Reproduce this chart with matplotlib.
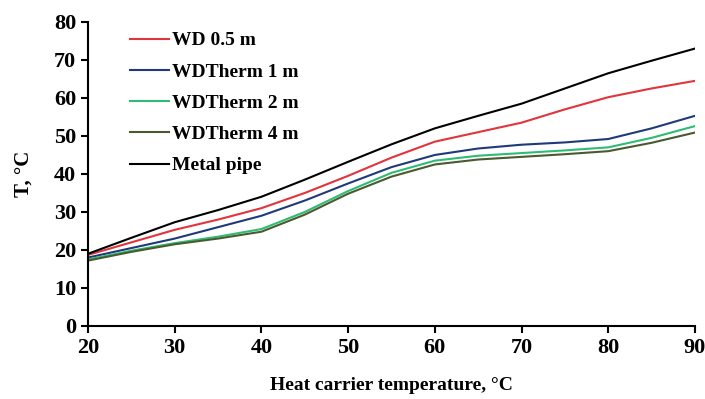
import matplotlib
matplotlib.use('Agg')
import matplotlib.pyplot as plt

plt.rcParams['font.family'] = ['Liberation Serif', 'DejaVu Serif']
plt.rcParams['font.weight'] = 'bold'

# heat carrier temperature, degC
carrier_t = [20, 25, 30, 35, 40, 45, 50, 55, 60, 65, 70, 75, 80, 85, 90]

wd_05 = [18.7, 22.0, 25.3, 28.0, 31.0, 35.0, 39.5, 44.3, 48.5, 51.0, 53.5, 57.0, 60.2, 62.5, 64.5]
wdtherm_1 = [18.0, 20.5, 23.0, 26.0, 29.0, 33.0, 37.5, 41.8, 45.0, 46.7, 47.7, 48.3, 49.2, 52.0, 55.3]
wdtherm_2 = [17.5, 19.8, 21.8, 23.5, 25.5, 30.0, 35.5, 40.3, 43.5, 44.8, 45.5, 46.2, 47.0, 49.5, 52.6]
wdtherm_4 = [17.2, 19.5, 21.5, 23.0, 24.8, 29.3, 34.8, 39.3, 42.5, 43.8, 44.5, 45.2, 46.0, 48.2, 50.9]
metal_pipe = [19.0, 23.2, 27.3, 30.5, 34.0, 38.5, 43.2, 47.8, 52.0, 55.3, 58.5, 62.5, 66.5, 69.8, 73.0]

series = [
    ('WD 0.5 m', wd_05, '#e2343c'),
    ('WDTherm 1 m', wdtherm_1, '#1f3a7a'),
    ('WDTherm 2 m', wdtherm_2, '#2ebc74'),
    ('WDTherm 4 m', wdtherm_4, '#4b5a2e'),
    ('Metal pipe', metal_pipe, 'black'),
]

fig = plt.figure(figsize=(7.05, 3.99), dpi=100)
ax = fig.add_axes([0.1248, 0.183, 0.861, 0.762])

for label, vals, color in series:
    ax.plot(carrier_t, vals, color=color, lw=1.5, label=label,
            solid_joinstyle='round')

ax.set_xlim(20, 90)
ax.set_ylim(0, 80)
ax.set_xticks(range(20, 91, 10))
ax.set_yticks(range(0, 81, 10))

ax.spines['right'].set_visible(False)
ax.spines['top'].set_visible(False)
ax.spines['left'].set_linewidth(1.5)
ax.spines['bottom'].set_linewidth(1.5)
ax.tick_params(direction='out', length=5, width=1.5, labelsize=16)
for lab in ax.get_xticklabels() + ax.get_yticklabels():
    lab.set_fontweight('bold')

ax.set_xlabel('Heat carrier temperature, °C', fontsize=14, fontweight='bold', labelpad=14)
ax.set_ylabel('T, °C', fontsize=15, fontweight='bold', labelpad=15)

leg = ax.legend(loc='upper left', bbox_to_anchor=(0.04, 1.025), frameon=False,
                fontsize=14, handlelength=2.0, handletextpad=0.15, labelspacing=0.7)
for t in leg.get_texts():
    t.set_fontweight('bold')

fig.savefig('out.png', dpi=100)
